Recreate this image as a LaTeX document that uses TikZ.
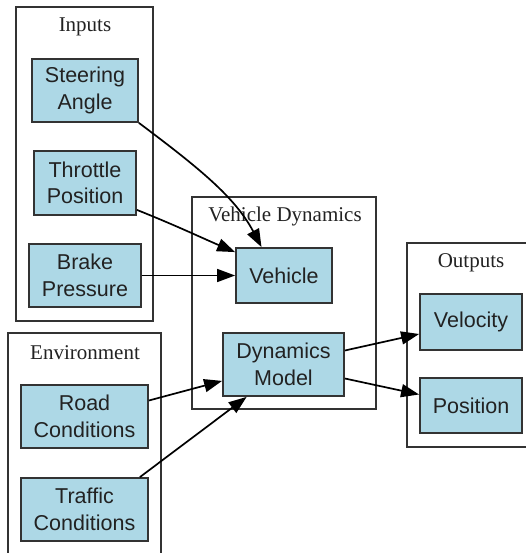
\documentclass[tikz,border=0pt]{standalone}
\usepackage{fontspec}
\setmainfont{Liberation Serif}
\newfontfamily\boxfont{Liberation Sans}
\usetikzlibrary{arrows.meta,calc}
\definecolor{boxfill}{HTML}{ADD8E6}
\definecolor{ink}{HTML}{222222}
\definecolor{frame}{HTML}{333333}
\begin{document}
\begin{tikzpicture}[x=1pt,y=-1pt,
  blk/.style={draw=frame,line width=1.8pt,fill=boxfill,inner sep=0pt,align=center,
    text=ink,font=\boxfont\fontsize{21.5}{26.5}\selectfont},
  grp/.style={draw=frame,line width=1.6pt},
  grplabel/.style={text=ink,font=\fontsize{21}{25}\selectfont,inner sep=0pt},
  conn/.style={draw=black,line width=1.7pt,-{Triangle[length=18pt,width=13pt]}}]
\useasboundingbox (0,0) rectangle (526,553);
\clip (0,0) rectangle (526,553);
% clusters
\draw[grp] (16,7) rectangle (153,321);
\draw[grp] (8,333) rectangle (161,570);
\draw[grp] (192,197) rectangle (376,409);
\draw[grp] (407,243) rectangle (540,447);
\node[grplabel] (lin) at (85,27) {Inputs};
\node[grplabel] (lenv) at (85,353) {Environment};
\node[grplabel] (lvd) at (285,216) {Vehicle Dynamics};
\node[grplabel] (lout) at (471,263) {Outputs};
% nodes
\node[blk,minimum width=106pt,minimum height=63pt] (steer) at (85,90.5) {Steering\\Angle};
\node[blk,minimum width=102pt,minimum height=64pt] (throttle) at (85,183) {Throttle\\Position};
\node[blk,minimum width=112pt,minimum height=63pt] (brake) at (85,275.5) {Brake\\Pressure};
\node[blk,minimum width=96pt,minimum height=55pt] (vehicle) at (284,275.5) {Vehicle};
\node[blk,minimum width=121pt,minimum height=63pt] (dyn) at (283.5,364.5) {Dynamics\\Model};
\node[blk,minimum width=102pt,minimum height=56pt] (velocity) at (471,322) {Velocity};
\node[blk,minimum width=102pt,minimum height=55pt] (position) at (471,405.5) {Position};
\node[blk,minimum width=127pt,minimum height=63pt] (road) at (84.5,416.5) {Road\\Conditions};
\node[blk,minimum width=127pt,minimum height=63pt] (traffic) at (84.5,509.5) {Traffic\\Conditions};
% connectors
\draw[conn] (steer.south east) .. controls ($(steer.south east)+(60,45)$) and ($(vehicle.north west)+(0,-50)$) .. ($(vehicle.north west)!0.27!(vehicle.north east)$);
\draw[conn] ([yshift=6pt]throttle.south east) .. controls ($(throttle.south east)+(40,10)$) and ($(vehicle.north west)+(-35,-10)$) .. ([yshift=-5pt]vehicle.north west);
\draw[conn] (brake.east) -- (vehicle.west);
\draw[conn] ([yshift=14pt]dyn.east) -- ([yshift=-12pt]velocity.west);
\draw[conn] ([yshift=-14pt]dyn.east) -- ([yshift=11pt]position.west);
\draw[conn] ([yshift=16pt]road.east) -- ([yshift=16pt]dyn.south west);
\draw[conn] ($(traffic.north west)!0.93!(traffic.north east)$) -- ($(dyn.south west)!0.2!(dyn.south east)$);
\end{tikzpicture}
\end{document}
